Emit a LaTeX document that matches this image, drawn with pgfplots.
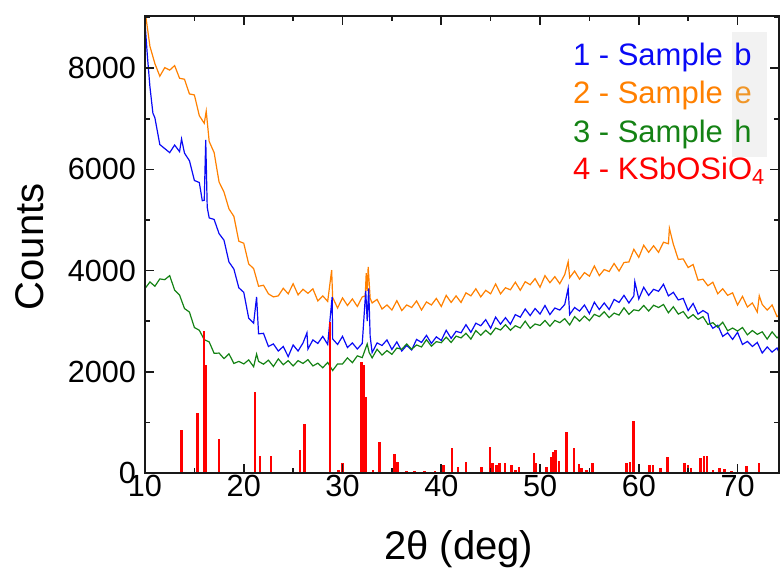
\documentclass[border=0pt]{standalone}
\usepackage{fontspec}
\setmainfont{Liberation Sans}
\usepackage{pgfplots}
\pgfplotsset{compat=1.18}

\definecolor{cb}{RGB}{10,10,245}
\definecolor{co}{RGB}{255,128,0}
\definecolor{cg}{RGB}{20,130,20}
\definecolor{cr}{RGB}{255,0,0}
\definecolor{ax}{RGB}{25,25,25}

\begin{document}
\begin{tikzpicture}
  \useasboundingbox (-72.5pt,-48pt) rectangle (317.5pt,236.5pt);
  \begin{axis}[
    scale only axis,
    width=317pt, height=228.5pt,
    xmin=10, xmax=74.2,
    ymin=0, ymax=9030,
    xtick={10,20,...,70},
    ytick={0,2000,...,8000},
    minor x tick num=1,
    minor y tick num=1,
    tick align=inside,
    major tick length=4.5pt,
    minor tick length=2.5pt,
    tick style={color=ax, line width=0.8pt},
    axis line style={color=ax, line width=0.8pt},
    axis on top,
    /pgf/number format/assume math mode=true,
    /pgf/number format/1000 sep={},
    tick label style={font=\fontsize{15.3}{18}\selectfont},
    xticklabel style={yshift=2.5pt},
    yticklabel style={xshift=-1pt},
    xlabel={2θ (deg)},
    ylabel={Counts},
    label style={font=\fontsize{20}{24}\selectfont},
    xlabel style={at={(axis description cs:0.495,-0.166)}, anchor=center},
    ylabel style={at={(axis description cs:-0.1814,0.495)}, anchor=center},
  ]
  % 2 - sample e
  \addplot[co, line width=0.6pt] coordinates {
    (10.0,9140) (10.5,8430) (11.0,8090) (11.5,7840) (12.0,8010) (12.5,7960)
    (13.0,8050) (13.5,7800) (14.0,7780) (14.5,7490) (15.0,7470) (15.5,7060)
    (16.0,6910) (16.2,7150) (16.5,6550) (17.0,6330) (17.5,5750) (18.0,5550)
    (18.5,5220) (19.0,5070) (19.5,4580) (20.0,4540) (20.5,4130) (21.0,4040)
    (21.5,3690) (22.0,3710) (22.5,3540) (23.0,3480) (23.5,3500) (24.0,3650)
    (24.5,3540) (25.0,3740) (25.5,3520) (26.0,3630) (26.5,3550) (27.0,3640)
    (27.5,3400) (28.0,3500) (28.5,3390) (28.9,4010) (29.0,3470) (29.5,3260)
    (30.0,3460) (30.5,3310) (31.0,3440) (31.5,3290) (32.0,3480) (32.3,3500)
    (32.4,3950) (32.5,3600) (32.6,4070) (32.8,3450) (33.0,3360) (33.5,3430)
    (34.0,3240) (34.5,3320) (35.0,3220) (35.5,3405) (36.0,3210) (36.5,3320)
    (37.0,3270) (37.5,3400) (38.0,3220) (38.5,3380) (39.0,3320) (39.5,3450)
    (40.0,3290) (40.5,3510) (41.0,3370) (41.5,3500) (42.0,3370) (42.5,3560)
    (43.0,3500) (43.5,3640) (44.0,3480) (44.5,3610) (45.0,3540) (45.5,3735)
    (46.0,3540) (46.5,3660) (47.0,3620) (47.5,3770) (48.0,3610) (48.5,3780)
    (49.0,3720) (49.5,3840) (50.0,3670) (50.5,3900) (51.0,3760) (51.5,3880)
    (52.0,3740) (52.5,3920) (52.85,4175) (53.0,3860) (53.5,3990) (54.0,3830)
    (54.5,3960) (55.0,3890) (55.5,4090) (56.0,3900) (56.5,4020) (57.0,3980)
    (57.5,4140) (58.0,3990) (58.5,4160) (59.0,4170) (59.5,4420) (60.0,4260)
    (60.5,4500) (61.0,4360) (61.5,4490) (62.0,4360) (62.5,4560) (63.0,4530)
    (63.1,4835) (63.5,4520) (64.0,4220) (64.5,4230) (65.0,4060) (65.5,4120)
    (66.0,3810) (66.5,3830) (67.0,3700) (67.5,3770) (68.0,3540) (68.5,3640)
    (69.0,3510) (69.5,3560) (70.0,3320) (70.5,3490) (71.0,3280) (71.5,3360)
    (72.0,3180) (72.2,3500) (72.5,3330) (73.0,3220) (73.5,3320) (74.0,3090)
    (74.5,3150)
  };
  % 1 - sample b
  \addplot[cb, line width=0.6pt] coordinates {
    (10.0,8900) (10.25,8220) (10.5,7630) (10.8,7110) (11.0,7020) (11.5,6490)
    (12.0,6410) (12.5,6330) (13.0,6480) (13.5,6350) (13.7,6600) (14.0,6320)
    (14.5,6170) (15.0,5780) (15.5,5740) (15.8,5380) (16.0,5390) (16.15,6580)
    (16.3,5250) (16.5,5040) (17.0,5010) (17.5,4730) (18.0,4600) (18.5,4170)
    (19.0,4030) (19.5,3660) (20.0,3570) (20.5,3060) (21.0,2960) (21.3,3480)
    (21.5,2750) (22.0,2760) (22.5,2500) (23.0,2550) (23.5,2410) (24.0,2500)
    (24.5,2300) (25.0,2530) (25.5,2410) (26.0,2570) (26.4,2770) (26.5,2450)
    (27.0,2630) (27.5,2560) (28.0,2700) (28.5,2540) (28.95,3480) (29.0,2650)
    (29.5,2540) (30.0,2700) (30.5,2480) (31.0,2570) (31.5,2450) (32.0,2560)
    (32.35,3600) (32.5,3000) (32.65,3650) (32.8,2700) (33.0,2380) (33.5,2570)
    (34.0,2520) (34.5,2630) (35.0,2440) (35.5,2590) (36.0,2410) (36.5,2520)
    (37.0,2430) (37.5,2640) (38.0,2580) (38.5,2720) (39.0,2560) (39.5,2690)
    (40.0,2620) (40.5,2820) (41.0,2660) (41.5,2800) (42.0,2770) (42.5,2930)
    (43.0,2780) (43.5,2960) (44.0,2910) (44.5,3030) (45.0,2860) (45.5,3080)
    (46.0,2940) (46.5,3070) (47.0,2940) (47.5,3130) (48.0,3080) (48.5,3240)
    (49.0,3110) (49.5,3250) (50.0,3140) (50.5,3310) (51.0,3130) (51.5,3260)
    (52.0,3220) (52.5,3330) (52.85,3650) (53.0,3130) (53.5,3270) (54.0,3200)
    (54.5,3320) (55.0,3150) (55.5,3375) (56.0,3230) (56.5,3360) (57.0,3230)
    (57.5,3430) (58.0,3370) (58.5,3510) (59.0,3360) (59.5,3500) (59.6,3780)
    (60.0,3440) (60.5,3670) (61.0,3510) (61.5,3630) (62.0,3590) (62.5,3730)
    (63.0,3500) (63.5,3570) (64.0,3420) (64.5,3450) (65.0,3210) (65.5,3350)
    (66.0,3140) (66.5,3210) (67.0,3150) (67.2,2950) (67.5,2860) (68.0,2920)
    (68.5,2700) (69.0,2770) (69.5,2640) (70.0,2780) (70.5,2540) (71.0,2600)
    (71.5,2500) (72.0,2580) (72.5,2370) (73.0,2490) (73.5,2390) (74.0,2470)
    (74.5,2260)
  };
  % 3 - sample h
  \addplot[cg, line width=0.6pt] coordinates {
    (10.0,3645) (10.5,3775) (11.0,3690) (11.5,3835) (12.0,3820) (12.5,3900)
    (13.0,3615) (13.5,3515) (14.0,3250) (14.5,3180) (15.0,2875) (15.5,2820)
    (16.0,2635) (16.5,2590) (17.0,2365) (17.5,2370) (18.0,2260) (18.5,2355)
    (19.0,2165) (19.5,2205) (20.0,2155) (20.5,2235) (21.0,2100) (21.3,2350)
    (21.5,2205) (22.0,2150) (22.5,2230) (23.0,2105) (23.5,2255) (24.0,2140)
    (24.5,2220) (25.0,2115) (25.5,2220) (26.0,2165) (26.5,2240) (27.0,2115)
    (27.5,2170) (28.0,2080) (28.5,2185) (29.0,2025) (29.5,2155) (30.0,2155)
    (30.5,2275) (31.0,2180) (31.5,2315) (32.0,2280) (32.5,2550) (32.7,2380)
    (33.0,2275) (33.5,2445) (34.0,2330) (34.5,2420) (35.0,2345) (35.5,2470)
    (36.0,2445) (36.5,2550) (37.0,2445) (37.5,2530) (38.0,2490) (38.5,2635)
    (39.0,2505) (39.5,2595) (40.0,2575) (40.5,2685) (41.0,2580) (41.5,2705)
    (42.0,2670) (42.5,2760) (43.0,2645) (43.5,2815) (44.0,2720) (44.5,2820)
    (45.0,2735) (45.5,2865) (46.0,2825) (46.5,2930) (47.0,2820) (47.5,2910)
    (48.0,2865) (48.5,3000) (49.0,2860) (49.5,2945) (50.0,2915) (50.5,3015)
    (51.0,2900) (51.5,3015) (52.0,2970) (52.5,3050) (53.0,2925) (53.5,3090)
    (54.0,3000) (54.5,3100) (55.0,3010) (55.5,3135) (56.0,3090) (56.5,3185)
    (57.0,3070) (57.5,3160) (58.0,3120) (58.5,3265) (59.0,3135) (59.5,3225)
    (60.0,3205) (60.5,3310) (61.0,3200) (61.5,3315) (62.0,3270) (62.5,3330)
    (63.0,3165) (63.5,3285) (64.0,3140) (64.5,3190) (65.0,3055) (65.5,3130)
    (66.0,3035) (66.5,3090) (67.0,2935) (67.5,2970) (68.0,2880) (68.5,2980)
    (69.0,2810) (69.5,2865) (70.0,2805) (70.5,2875) (71.0,2730) (71.5,2815)
    (72.0,2740) (72.5,2790) (73.0,2645) (73.5,2790) (74.0,2670) (74.5,2750)
  };
  % 4 - KSbOSiO4 reference lines
  \addplot[cr, ycomb, line width=1.3pt] coordinates {
    (13.71,850) (15.33,1180) (15.97,2810) (16.10,2130) (17.49,665)
    (21.13,1605) (21.64,335) (22.75,335) (25.69,455) (26.13,970)
    (28.72,2990) (29.60,60) (30.00,190) (30.85,25) (31.93,2200)
    (32.15,2130) (32.37,1500) (33.08,60) (33.72,620) (35.24,370)
    (35.54,225) (36.49,30) (37.27,30) (38.28,30) (39.36,30)
    (40.20,160) (41.10,490) (41.70,125) (42.50,225) (44.08,125)
    (44.92,520) (45.20,190) (45.60,160) (45.90,190) (46.44,190)
    (47.11,160) (47.50,60) (47.89,125) (49.40,400) (49.60,190)
    (50.66,125) (51.10,320) (51.35,420) (51.57,455) (51.94,245)
    (52.68,815) (53.45,490) (53.95,170) (54.20,90) (54.70,60)
    (55.31,190) (58.75,190) (59.10,225) (59.49,1030) (61.10,160)
    (61.44,160) (62.20,90) (62.90,320) (64.65,190) (65.00,160)
    (65.30,90) (66.27,290) (66.60,335) (66.90,335) (67.50,60)
    (68.20,90) (68.70,75) (69.40,45) (70.90,145) (72.17,190)
  };
  % legend text
  \fill[black!5] (axis cs:69.4,6245) rectangle (axis cs:73.0,8715);
  \begin{scope}[every node/.style={anchor=base west, inner sep=0pt,
      font=\fontsize{15.5}{18}\selectfont}]
    \node[cb] at (axis cs:53.3,8060) {1 - Sample\hspace{1.5pt} b};
    \node[co] at (axis cs:53.3,7310) {2 - Sample\hspace{1.5pt} \textcolor[RGB]{240,150,40}{e}};
    \node[cg] at (axis cs:53.3,6540) {3 - Sample\hspace{1.5pt} h};
    \node[cr] at (axis cs:53.3,5790) {4 - KSbOSiO\textsubscript{4}};
  \end{scope}
  \end{axis}
  % frame and ticks as thin filled bars (axis box 317pt x 228.5pt)
  \begin{scope}[fill=ax]
    \fill (-0.4pt,-0.4pt) rectangle (0.4pt,228.9pt);
    \fill (316.6pt,-0.4pt) rectangle (317.4pt,228.9pt);
    \fill (-0.4pt,-0.4pt) rectangle (317.4pt,0.4pt);
    \fill (-0.4pt,228.1pt) rectangle (317.4pt,228.9pt);
    \foreach \X in {20,30,...,70}{
      \fill ({(\X-10)/64.2*317pt-0.4pt},0) rectangle ++(0.8pt,4.5pt);
      \fill ({(\X-10)/64.2*317pt-0.4pt},228.5pt) rectangle ++(0.8pt,-4.5pt);}
    \foreach \X in {15,25,...,65}{
      \fill ({(\X-10)/64.2*317pt-0.4pt},0) rectangle ++(0.8pt,2.5pt);
      \fill ({(\X-10)/64.2*317pt-0.4pt},228.5pt) rectangle ++(0.8pt,-2.5pt);}
    \foreach \Y in {2000,4000,...,8000}{
      \fill (0,{\Y/9030*228.5pt-0.4pt}) rectangle ++(4.5pt,0.8pt);
      \fill (317pt,{\Y/9030*228.5pt-0.4pt}) rectangle ++(-4.5pt,0.8pt);}
    \foreach \Y in {1000,3000,...,9000}{
      \fill (0,{\Y/9030*228.5pt-0.4pt}) rectangle ++(2.5pt,0.8pt);
      \fill (317pt,{\Y/9030*228.5pt-0.4pt}) rectangle ++(-2.5pt,0.8pt);}
  \end{scope}
\end{tikzpicture}
\end{document}
